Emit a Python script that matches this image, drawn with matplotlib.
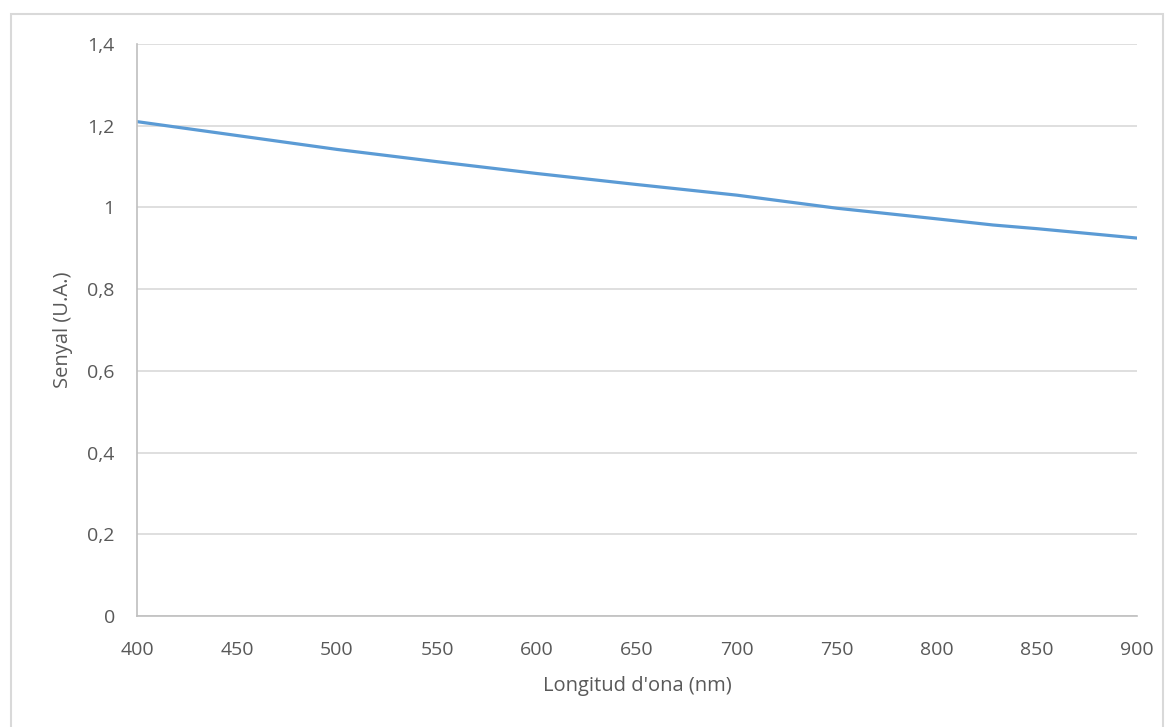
import numpy as np
import matplotlib.pyplot as plt
from matplotlib.patches import Rectangle

# dades llegides del gràfic
longitud = [400, 450, 500, 550, 600, 650, 700, 750, 800, 828, 850, 900]
senyal = [1.210, 1.176, 1.142, 1.112, 1.083, 1.056, 1.030, 0.998, 0.972, 0.957, 0.948, 0.925]

xticks = [400, 450, 500, 550, 600, 650, 700, 750, 800, 850, 900]
yticks = [0, 0.2, 0.4, 0.6, 0.8, 1.0, 1.2, 1.4]
ylabels = ['0', '0,2', '0,4', '0,6', '0,8', '1', '1,2', '1,4']

plt.rcParams['font.family'] = ['Open Sans', 'DejaVu Sans']
txt = '#595959'

fig = plt.figure(figsize=(11.68, 7.27), dpi=100)
# marc exterior del gràfic
fig.patches.append(Rectangle((11/1168, -0.01), (1163-11)/1168, 1 - 14/727 + 0.01,
                             transform=fig.transFigure, fill=False,
                             edgecolor='#d9d9d9', lw=1.5))

ax = fig.add_axes([137/1168, 1-616/727, 1000/1168, 572/727])
ax.plot(longitud, senyal, color='#5b9bd5', lw=2.3, solid_capstyle='round')

ax.set_xlim(400, 900)
ax.set_ylim(0, 1.4)
ax.set_xticks(xticks)
ax.set_yticks(yticks)
ax.set_yticklabels(ylabels)
ax.grid(axis='y', color='#d9d9d9', lw=1.2)
ax.set_axisbelow(True)
for s in ['top', 'right']:
    ax.spines[s].set_visible(False)
for s in ['left', 'bottom']:
    ax.spines[s].set_color('#bfbfbf')
    ax.spines[s].set_linewidth(1.2)
ax.tick_params(length=0, labelsize=14, colors=txt)
ax.tick_params(axis='x', pad=18)
ax.tick_params(axis='y', pad=16)

ax.set_xlabel("Longitud d'ona (nm)", fontsize=14.5, color=txt, labelpad=12)
ax.set_ylabel('Senyal (U.A.)', fontsize=14.5, color=txt, labelpad=10)

fig.savefig('out.png', dpi=100)
